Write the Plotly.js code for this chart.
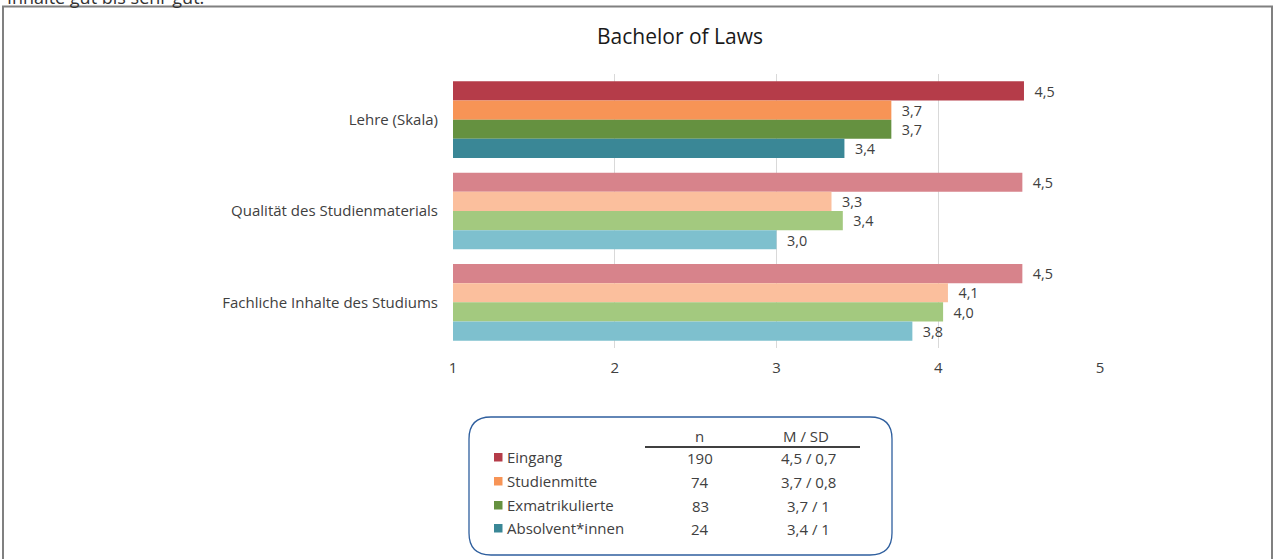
<!DOCTYPE html>
<html>
<head>
<meta charset="utf-8">
<script src="https://cdn.plot.ly/plotly-3.0.1.min.js"></script>
<style>
html,body{margin:0;padding:0;background:#fff;overflow:hidden;}
#chart{width:1274px;height:559px;}
</style>
</head>
<body>
<div id="chart"></div>
<script>
// ---- data ----
var categories = ["Lehre (Skala)", "Qualität des Studienmaterials", "Fachliche Inhalte des Studiums"];
var groups = ["Eingang", "Studienmitte", "Exmatrikulierte", "Absolvent*innen"];
var eingang = [4.53, 4.52, 4.52];
var studienmitte = [3.71, 3.34, 4.06];
var exmatrikulierte = [3.71, 3.41, 4.03];
var absolventen = [3.42, 3.00, 3.84];
var nValues = ["190", "74", "83", "24"];
var msdValues = ["4,5 / 0,7", "3,7 / 0,8", "3,7 / 1", "3,4 / 1"];
var xTicks = [1, 2, 3, 4, 5];
var titleText = "Bachelor of Laws";
var topText = "Inhalte gut bis sehr gut.";

// ---- styles ----
var darkColors = ["#B53C49", "#F79456", "#659140", "#3A8796"];
var lightColors = ["#D7838B", "#FBBF9D", "#A3C97F", "#7EC0CE"];
var font = "Open Sans, Noto Sans, sans-serif";
var textColor = "#404040";
var fs = 15;

var W = 1274, H = 559;
var M = {l: 453, r: 174, t: 74, b: 211};
var pw = W - M.l - M.r, ph = H - M.t - M.b;
function px(x) { return (x - M.l) / pw; }
function py(y) { return (H - M.b - y) / ph; }

var series = [eingang, studienmitte, exmatrikulierte, absolventen];
var traces = series.map(function (vals, i) {
  return {
    type: "bar",
    orientation: "h",
    name: groups[i],
    y: categories,
    x: vals,
    marker: {color: categories.map(function (c, j) { return j === 0 ? darkColors[i] : lightColors[i]; })},
    texttemplate: "  %{x:.1f}",
    textposition: "outside",
    textfont: {family: font, size: fs, color: textColor},
    cliponaxis: false,
    hoverinfo: "none"
  };
});

var shapes = [];
var annotations = [];

// outer frame
shapes.push({type: "rect", xref: "paper", yref: "paper",
  x0: px(3), x1: px(1272), y0: py(6.5), y1: py(600),
  line: {color: "#808080", width: 2}, fillcolor: "rgba(0,0,0,0)", layer: "below"});

// legend box (rounded)
(function () {
  var x0 = px(469), x1 = px(892), y0 = py(417), y1 = py(555);
  var rx = 22 / pw, ry = 22 / ph;
  var p = "M" + (x0 + rx) + "," + y0 +
    " L" + (x1 - rx) + "," + y0 +
    " Q" + x1 + "," + y0 + " " + x1 + "," + (y0 - ry) +
    " L" + x1 + "," + (y1 + ry) +
    " Q" + x1 + "," + y1 + " " + (x1 - rx) + "," + y1 +
    " L" + (x0 + rx) + "," + y1 +
    " Q" + x0 + "," + y1 + " " + x0 + "," + (y1 + ry) +
    " L" + x0 + "," + (y0 - ry) +
    " Q" + x0 + "," + y0 + " " + (x0 + rx) + "," + y0 + " Z";
  shapes.push({type: "path", xref: "paper", yref: "paper", path: p,
    line: {color: "#2F5F9E", width: 1.3}, fillcolor: "rgba(0,0,0,0)"});
})();

// header line
shapes.push({type: "line", xref: "paper", yref: "paper",
  x0: px(645), x1: px(860), y0: py(447), y1: py(447),
  line: {color: "#000000", width: 1.5}});

function ann(text, x, y, xanchor, size, color) {
  annotations.push({text: text, xref: "paper", yref: "paper", x: px(x), y: py(y),
    xanchor: xanchor, yanchor: "middle", showarrow: false,
    font: {family: font, size: size || fs, color: color || textColor}});
}
ann("n", 699, 436, "center");
ann("M / SD", 806, 436, "center");
var rowY = [457, 481, 505, 528];
groups.forEach(function (g, i) {
  shapes.push({type: "rect", xref: "paper", yref: "paper",
    x0: px(494), x1: px(502.5), y0: py(rowY[i] - 4), y1: py(rowY[i] + 4.5),
    line: {width: 0}, fillcolor: darkColors[i]});
  ann(g, 505, rowY[i], "left");
  ann(nValues[i], 700, rowY[i] + 1, "center");
  ann(msdValues[i], 808, rowY[i] + 1, "center");
});

// title and top text
ann(titleText, 680, 36, "center", 21, "#1a1a1a");
ann(topText, 5, -3, "left", 18, "#333333");

var layout = {
  width: W, height: H,
  margin: M,
  paper_bgcolor: "#ffffff",
  plot_bgcolor: "#ffffff",
  barmode: "group",
  bargap: 0.16,
  bargroupgap: 0,
  separators: ",.",
  showlegend: false,
  font: {family: font, size: fs, color: textColor},
  xaxis: {
    range: [1, 5],
    tickvals: xTicks,
    ticktext: xTicks.map(String),
    showgrid: true,
    gridcolor: "#D9D9D9",
    gridwidth: 1,
    zeroline: false,
    showline: false,
    ticks: "",
    ticklabelstandoff: 9,
    tickfont: {family: font, size: fs, color: textColor},
    fixedrange: true
  },
  yaxis: {
    autorange: "reversed",
    showgrid: false,
    zeroline: false,
    showline: false,
    ticks: "",
    ticklabelstandoff: 14,
    tickfont: {family: font, size: fs, color: textColor},
    fixedrange: true
  },
  shapes: shapes,
  annotations: annotations
};

Plotly.newPlot("chart", traces, layout, {displayModeBar: false, staticPlot: true});
</script>
</body>
</html>
